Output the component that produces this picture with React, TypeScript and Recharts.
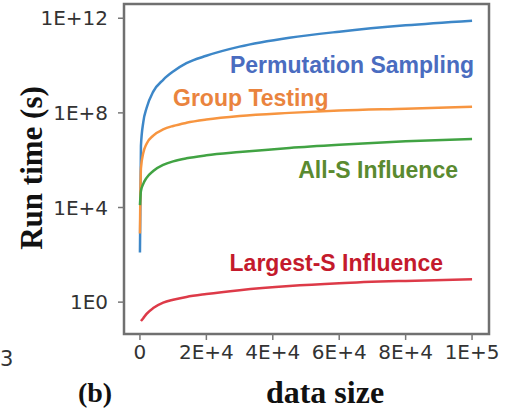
import React from 'react';
import { LineChart, Line, XAxis, YAxis, ReferenceArea } from 'recharts';

const sizes = [1, 300, 1000, 2000, 4000, 7000, 10000, 14000, 20000, 30000, 45000, 60000, 80000, 100000];
const permutationSampling = [1.26e2, 4.0e6, 4.0e7, 1.6e8, 7.9e8, 2.5e9, 5.6e9, 1.26e10, 2.6e10, 6.3e10, 1.5e11, 2.7e11, 5.0e11, 7.9e11];
const groupTesting = [7.9e2, 4.5e5, 2.0e6, 5.0e6, 1.1e7, 2.0e7, 2.8e7, 3.8e7, 5.2e7, 7.4e7, 1.0e8, 1.26e8, 1.5e8, 1.8e8];
const allSInfluence = [1.26e4, 5.0e4, 1.0e5, 1.8e5, 3.5e5, 6.3e5, 8.9e5, 1.2e6, 1.6e6, 2.2e6, 3.3e6, 4.5e6, 6.3e6, 7.9e6];
const largestSInfluence = [null, 0.16, 0.21, 0.32, 0.56, 0.95, 1.26, 1.66, 2.2, 3.2, 4.8, 6.3, 7.9, 9.3];

const xTicks = [0, 20000, 40000, 60000, 80000, 100000];
const xTickLabels = ['0', '2E+4', '4E+4', '6E+4', '8E+4', '1E+5'];
const yTicks = [1, 1e4, 1e8, 1e12];
const yTickLabels = ['1E0', '1E+4', '1E+8', '1E+12'];

const xDomain = [-4800, 105100];
const yDomain = [0.045, 4e12];

const data = sizes.map((s, i) => ({
  size: s,
  perm: permutationSampling[i],
  group: groupTesting[i],
  alls: allSInfluence[i],
  largest: largestSInfluence[i],
}));

const tickFont = { fontFamily: 'DejaVu Sans', fontSize: 20, fill: '#333' };
const labelFont = { fontFamily: 'Liberation Sans', fontWeight: 700, fontSize: 23 };
const titleFont = { fontFamily: 'Liberation Serif', fontWeight: 700, fill: '#111' };

export default function App() {
  return (
    <div style={{ position: 'absolute', left: 0, top: 0, background: '#fff' }}>
      <LineChart width={506} height={412} data={data} margin={{ top: 4, right: 17, bottom: 48, left: 64 }}>
        <XAxis
          dataKey="size"
          type="number"
          domain={xDomain}
          allowDataOverflow
          ticks={xTicks}
          tickFormatter={(v: number) => xTickLabels[xTicks.indexOf(v)] ?? ''}
          axisLine={false}
          tickLine={{ stroke: '#777', strokeWidth: 1.5 }}
          tickSize={6}
          tickMargin={5}
          height={30}
          tick={tickFont}
          interval={0}
        />
        <YAxis
          type="number"
          scale="log"
          domain={yDomain}
          allowDataOverflow
          ticks={yTicks}
          tickFormatter={(v: number) => yTickLabels[yTicks.indexOf(v)] ?? ''}
          axisLine={false}
          tickLine={{ stroke: '#777', strokeWidth: 1.5 }}
          tickSize={6}
          tickMargin={10}
          width={60}
          tick={tickFont}
          interval={0}
        />
        <ReferenceArea
          x1={xDomain[0]}
          x2={xDomain[1]}
          y1={yDomain[0]}
          y2={yDomain[1]}
          fill="none"
          stroke="#707070"
          strokeWidth={2.5}
          ifOverflow="visible"
        />
        <Line dataKey="perm" stroke="#3d87c8" strokeWidth={2.5} dot={false} type="monotone" isAnimationActive={false} />
        <Line dataKey="group" stroke="#f79540" strokeWidth={2.5} dot={false} type="monotone" isAnimationActive={false} />
        <Line dataKey="alls" stroke="#41a343" strokeWidth={2.5} dot={false} type="monotone" isAnimationActive={false} />
        <Line dataKey="largest" stroke="#dd3a48" strokeWidth={2.5} dot={false} type="monotone" isAnimationActive={false} />
        <text x={474} y={73} textAnchor="end" style={{ ...labelFont, fill: '#4a6cc0' }}>Permutation Sampling</text>
        <text x={173} y={106} textAnchor="start" style={{ ...labelFont, fill: '#ea843e' }}>Group Testing</text>
        <text x={458} y={178} textAnchor="end" style={{ ...labelFont, fill: '#5a8a30' }}>All-S Influence</text>
        <text x={443} y={271} textAnchor="end" style={{ ...labelFont, fill: '#c41a2c' }}>Largest-S Influence</text>
        <text x={42} y={168} textAnchor="middle" transform="rotate(-90 42 168)" style={{ ...titleFont, fontSize: 31 }}>Run time (s)</text>
        <text x={325} y={403} textAnchor="middle" style={{ ...titleFont, fontSize: 32 }}>data size</text>
        <text x={95} y={402} textAnchor="middle" style={{ ...titleFont, fontSize: 28 }}>(b)</text>
        <text x={0} y={366} textAnchor="start" style={{ fontFamily: 'DejaVu Sans', fontSize: 21, fill: '#333' }}>3</text>
      </LineChart>
    </div>
  );
}
